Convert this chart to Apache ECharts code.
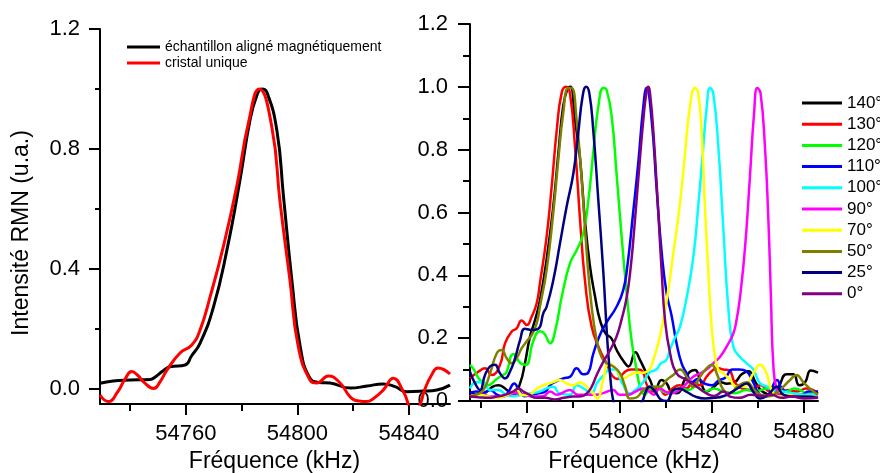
<!DOCTYPE html>
<html><head><meta charset="utf-8">
<script src="https://cdn.jsdelivr.net/npm/echarts@6/dist/echarts.min.js"></script>
<style>html,body{margin:0;padding:0;background:#fff}#c{width:880px;height:473px}</style>
</head><body><div id="c"></div>
<script>
const FONT = '"Liberation Sans", Arial, sans-serif';

// ---------- tick labels ----------
const leftXMajor = [54760, 54800, 54840];
const leftXMinor = [54740, 54780, 54820];
const leftYMajor = [0, 0.4, 0.8, 1.2];
const leftYMinor = [0.2, 0.6, 1.0];
const rightXMajor = [54760, 54800, 54840, 54880];
const rightXMinor = [54740, 54780, 54820, 54860];

// ---------- left panel series ----------
const leftNames = ['échantillon aligné magnétiquement', 'cristal unique'];
const alignedSample = [[54729.2,0.019],[54733.9,0.027],[54740,0.03],[54747.2,0.032],[54749,0.04],[54752,0.062],[54754.3,0.074],[54759.7,0.08],[54762,0.11],[54765.1,0.153],[54769.9,0.274],[54774.7,0.463],[54779.4,0.697],[54783,0.897],[54785.5,0.98],[54787.2,1.0],[54789,0.99],[54792.6,0.863],[54795,0.641],[54798,0.363],[54801,0.141],[54804.5,0.036],[54808,0.022],[54811.7,0.02],[54818.9,0.003],[54825,0.01],[54830.7,0.017],[54835,0.008],[54839.2,-0.009],[54845,-0.007],[54850,-0.003],[54854.7,0.013]];
const singleCrystal = [[54729.2,-0.02],[54732.2,-0.042],[54735.5,-0.01],[54738,0.03],[54740.6,0.058],[54742.8,0.045],[54744.8,0.024],[54748.4,0.002],[54750.8,0.025],[54753.2,0.063],[54757.9,0.12],[54762.1,0.147],[54765.1,0.197],[54768.7,0.308],[54773.4,0.474],[54778.2,0.674],[54782.4,0.886],[54786.3,1.0],[54790.8,0.874],[54793.8,0.62],[54797.3,0.363],[54800.3,0.141],[54804.5,0.03],[54806.9,0.02],[54811.1,0.043],[54815.3,0.02],[54818.9,-0.026],[54822,-0.04],[54824.8,-0.042],[54827.5,-0.03],[54830.8,-0.003],[54834.4,0.036],[54838,-0.009],[54841.5,-0.07],[54843.5,-0.06],[54845.6,-0.003],[54848,0.045],[54850.4,0.07],[54854.7,0.05]];

// ---------- right panel series ----------
const angleNames = ['140°','130°','120°','110°','100°','90°','70°','50°','25°','0°'];
const angleColors = ['#000000','#ff0000','#00ff00','#0000ff','#00ffff','#ff00ff','#ffff00','#808000','#000080','#800080'];
const a140 = [[54735.3,0.03],[54738.5,0.02],[54742.5,0.03],[54745,0.045],[54747.6,0.05],[54750.5,0.04],[54754.1,0.019],[54757,0.056],[54759.1,0.12],[54761.3,0.205],[54763.5,0.258],[54765.6,0.32],[54768.5,0.45],[54771.4,0.62],[54773.6,0.79],[54775.7,0.94],[54777.6,0.995],[54778.8,1.0],[54780.8,0.895],[54783,0.77],[54785.1,0.576],[54787.3,0.428],[54789.5,0.332],[54791.6,0.258],[54794,0.215],[54796.5,0.2],[54799,0.16],[54802,0.125],[54804,0.11],[54807,0.155],[54809,0.13],[54811,0.1],[54813.3,0.067],[54815.5,0.035],[54818.3,0.067],[54820.5,0.056],[54822.5,0.03],[54825,0.025],[54828.5,0.07],[54830.6,0.093],[54832.8,0.099],[54835,0.067],[54837.8,0.03],[54841,0.045],[54844,0.06],[54846.5,0.055],[54850,0.06],[54853,0.085],[54856,0.095],[54859,0.06],[54862,0.03],[54866,0.02],[54869,0.045],[54872.5,0.085],[54875.4,0.085],[54878,0.05],[54880.5,0.06],[54883,0.097],[54886.1,0.09]];
const a130 = [[54735.3,0.072],[54738.9,0.093],[54741.8,0.104],[54744.7,0.083],[54748.3,0.115],[54750.5,0.184],[54753.4,0.221],[54755.5,0.231],[54757.7,0.256],[54759.9,0.242],[54762,0.268],[54764.2,0.311],[54765.6,0.375],[54768.5,0.523],[54770.7,0.683],[54772.9,0.863],[54775,0.98],[54776.9,1.0],[54778.6,0.98],[54780.8,0.81],[54783,0.576],[54785.1,0.385],[54788,0.237],[54791.6,0.162],[54794.5,0.12],[54797,0.08],[54799.5,0.07],[54802,0.09],[54805,0.1],[54808,0.1],[54810,0.095],[54812,0.05],[54814.5,0.03],[54817,0.04],[54820,0.02],[54823,0.04],[54826,0.05],[54829,0.04],[54832,0.06],[54835,0.05],[54837.8,0.077],[54840,0.095],[54842.5,0.105],[54845,0.1],[54847.5,0.098],[54850,0.06],[54853,0.04],[54857,0.035],[54861,0.05],[54865,0.03],[54869,0.02],[54873,0.035],[54877,0.03],[54881,0.04],[54886.1,0.025]];
const a120 = [[54735.3,0.115],[54737,0.1],[54739.6,0.067],[54743,0.05],[54746.9,0.07],[54749.5,0.083],[54751,0.09],[54754.1,0.15],[54757.2,0.12],[54759.5,0.115],[54762.7,0.19],[54765.6,0.222],[54767.5,0.215],[54770,0.184],[54772.4,0.23],[54775,0.33],[54778.6,0.438],[54781.5,0.48],[54784.4,0.534],[54786.6,0.64],[54788.7,0.79],[54790.9,0.937],[54793.1,0.996],[54794.5,0.99],[54796.7,0.905],[54798.8,0.725],[54801,0.523],[54803.2,0.343],[54805.3,0.194],[54807.5,0.1],[54809,0.045],[54811,0.02],[54813,0.035],[54816,0.045],[54819,0.03],[54822,0.025],[54826,0.04],[54830,0.035],[54833,0.045],[54837,0.03],[54841,0.04],[54845,0.03],[54850,0.025],[54855,0.035],[54859,0.03],[54864,0.04],[54868,0.035],[54872,0.03],[54876,0.04],[54881,0.025],[54886.1,0.02]];
const a110 = [[54735.3,0.025],[54738,0.03],[54741,0.025],[54744,0.035],[54747,0.02],[54749.8,0.014],[54752,0.03],[54754.5,0.056],[54756.5,0.035],[54759,0.015],[54762,0.02],[54765.5,0.025],[54768,0.03],[54770,0.05],[54772,0.06],[54775.7,0.072],[54778.6,0.077],[54781.5,0.104],[54784.4,0.085],[54786.5,0.09],[54788.7,0.15],[54791.6,0.21],[54794.5,0.25],[54798.8,0.3],[54801.7,0.353],[54803.5,0.43],[54806,0.6],[54808.2,0.757],[54810.4,0.937],[54811.8,0.996],[54814,0.895],[54816.2,0.672],[54818.4,0.47],[54820.5,0.343],[54822.7,0.27],[54824.8,0.184],[54827,0.12],[54829.2,0.088],[54831.5,0.06],[54834,0.07],[54837,0.055],[54840,0.05],[54843,0.065],[54846,0.075],[54849,0.1],[54852,0.1],[54855,0.095],[54858,0.06],[54861,0.02],[54864,0.015],[54866,0.04],[54868.3,0.067],[54870.5,0.04],[54874,0.025],[54879,0.02],[54882,0.03],[54886.1,0.03]];
const a100 = [[54735.3,0.04],[54738,0.06],[54741,0.06],[54744,0.035],[54747.5,0.035],[54751,0.02],[54754,0.015],[54758,0.02],[54762,0.025],[54765.5,0.03],[54768.5,0.04],[54771.4,0.045],[54774,0.025],[54778.6,0.02],[54781.5,0.05],[54784.4,0.04],[54788,0.025],[54790.3,0.057],[54793,0.08],[54796,0.1],[54798,0.1],[54801,0.06],[54804.6,0.024],[54807,0.035],[54810.4,0.06],[54813,0.09],[54816,0.1],[54818,0.12],[54820.3,0.13],[54822,0.165],[54824,0.2],[54826.3,0.237],[54829.2,0.33],[54832.1,0.46],[54834.2,0.62],[54836.4,0.81],[54837.9,0.937],[54839.3,0.996],[54840.7,0.98],[54842.9,0.81],[54845.1,0.545],[54847.2,0.3],[54849.4,0.173],[54852.3,0.14],[54855.2,0.12],[54858.1,0.1],[54861,0.056],[54864,0.046],[54867,0.035],[54871,0.03],[54875,0.025],[54880,0.02],[54886.1,0.02]];
const a90 = [[54735.3,0.015],[54738,0.02],[54741,0.02],[54744,0.014],[54748,0.014],[54752,0.02],[54755,0.025],[54759,0.02],[54763,0.014],[54767,0.015],[54770,0.03],[54773,0.02],[54778.6,0.035],[54782,0.02],[54786,0.02],[54790,0.02],[54793,0.025],[54797.4,0.035],[54800,0.02],[54804,0.02],[54807,0.03],[54810.4,0.04],[54813,0.03],[54815,0.02],[54817.6,0.04],[54820,0.03],[54823,0.025],[54826,0.035],[54829,0.055],[54832,0.077],[54835,0.088],[54837.8,0.1],[54840.7,0.12],[54843.6,0.14],[54846.5,0.173],[54849.4,0.215],[54850.8,0.258],[54852.3,0.33],[54854.5,0.49],[54856.6,0.714],[54858.4,0.916],[54859.8,0.996],[54861.2,0.98],[54863.1,0.81],[54864.6,0.576],[54865.7,0.332],[54866.7,0.12],[54868.2,0.035],[54870.3,0.014],[54874,0.015],[54878,0.012],[54882,0.015],[54886.1,0.01]];
const a70 = [[54735.3,0.014],[54739,0.02],[54743,0.015],[54747,0.01],[54750,0.015],[54753,0.025],[54755.5,0.035],[54758,0.018],[54761,0.02],[54764.2,0.04],[54767,0.05],[54771.4,0.06],[54774.3,0.067],[54777,0.056],[54780,0.05],[54783,0.06],[54785.9,0.045],[54788.7,0.024],[54790.5,0.008],[54793,0.067],[54795.5,0.12],[54798.8,0.1],[54801.7,0.072],[54804.6,0.083],[54807.5,0.09],[54810.4,0.09],[54813,0.1],[54814.7,0.13],[54817.6,0.205],[54820.5,0.32],[54823.4,0.47],[54826.3,0.63],[54828.5,0.79],[54830.6,0.937],[54832.8,0.996],[54834.2,0.98],[54835.7,0.852],[54837.1,0.62],[54838.6,0.407],[54840,0.237],[54841.5,0.14],[54842.9,0.1],[54845.1,0.088],[54848,0.067],[54850.8,0.046],[54854,0.046],[54858.1,0.088],[54861,0.115],[54863.8,0.088],[54866,0.035],[54869.6,0.014],[54873,0.02],[54877,0.015],[54881,0.015],[54886.1,0.01]];
const a50 = [[54735.3,0.014],[54738,0.02],[54741.1,0.035],[54744,0.088],[54746.9,0.152],[54749,0.162],[54751.2,0.136],[54753.4,0.12],[54755.5,0.136],[54757.7,0.168],[54759.9,0.19],[54762,0.21],[54764.2,0.247],[54765.6,0.3],[54768.5,0.417],[54771.4,0.6],[54773.6,0.77],[54775.7,0.916],[54777.9,0.996],[54779.3,0.996],[54781.5,0.895],[54783.7,0.704],[54785.9,0.47],[54788,0.3],[54790.2,0.194],[54792.3,0.14],[54794.5,0.12],[54797.4,0.11],[54800.3,0.088],[54802.5,0.046],[54804.6,0.008],[54807,0.01],[54810,0.03],[54813,0.045],[54817.6,0.045],[54820.5,0.067],[54823.4,0.083],[54826.3,0.1],[54829.2,0.077],[54832,0.045],[54835,0.077],[54837.8,0.104],[54840,0.115],[54842.2,0.088],[54845.1,0.035],[54848,0.025],[54851,0.045],[54855.2,0.06],[54858,0.04],[54861,0.02],[54865,0.015],[54868,0.025],[54871,0.045],[54874,0.067],[54876.8,0.083],[54879.7,0.06],[54882.5,0.04],[54886.1,0.02]];
const a25 = [[54735.3,0.093],[54737.5,0.056],[54739.6,0.035],[54741.8,0.083],[54744,0.11],[54746.1,0.115],[54748.3,0.088],[54750.5,0.072],[54752.6,0.093],[54754.8,0.136],[54757,0.194],[54759.1,0.23],[54762,0.226],[54764.9,0.23],[54767.1,0.28],[54768.5,0.3],[54771.4,0.385],[54774.3,0.502],[54777.2,0.62],[54780.1,0.725],[54782.2,0.852],[54784.1,0.97],[54785.6,1.0],[54787,0.98],[54788.7,0.863],[54790.9,0.64],[54793.1,0.407],[54794.8,0.194],[54796.2,0.067],[54797.4,0.0],[54799,-0.03],[54803,-0.05],[54807,-0.03],[54810,0.0],[54811.5,0.03],[54813,0.045],[54815.5,0.03],[54818,0.005],[54820.5,0.0],[54823.4,0.035],[54826,0.04],[54829,0.03],[54833,0.014],[54837,0.008],[54841,0.01],[54845,0.015],[54849,0.03],[54852.3,0.045],[54855.2,0.056],[54858,0.03],[54861,0.008],[54864.5,0.02],[54868.2,0.045],[54871,0.02],[54875,0.014],[54880,0.014],[54886.1,0.01]];
const a0 = [[54735.3,0.014],[54739,0.012],[54743,0.01],[54747,0.014],[54750.5,0.02],[54754,0.03],[54756.2,0.04],[54758.5,0.03],[54761,0.02],[54764,0.01],[54768,0.01],[54772,0.005],[54776,0.01],[54780,0.014],[54783.5,0.015],[54785.9,0.024],[54788,0.045],[54790.2,0.083],[54793.1,0.125],[54796,0.162],[54798.8,0.205],[54801,0.26],[54803.2,0.33],[54805,0.43],[54806.5,0.55],[54808.2,0.704],[54810.4,0.895],[54811.9,0.99],[54812.6,1.0],[54813.3,0.98],[54814.7,0.863],[54816.9,0.6],[54818.4,0.407],[54819.8,0.258],[54822,0.152],[54824.8,0.088],[54829.2,0.067],[54833.5,0.046],[54837.8,0.024],[54841,0.016],[54845.1,0.03],[54848,0.014],[54852,0.01],[54857,0.02],[54862,0.016],[54866,0.02],[54870,0.01],[54875,0.014],[54880,0.008],[54886.1,0.01]];
const angleData = [a140, a130, a120, a110, a100, a90, a70, a50, a25, a0];

// ---------- chart ----------
const chart = echarts.init(document.getElementById('c'), null, {renderer: 'canvas'});
const black = '#000';
const lineStyle = {color: black, width: 2};
function axisX(grid, min, max, values, len, showLine, labelMargin) {
  return {
    type: 'value', gridIndex: grid, min: min, max: max, position: 'bottom', offset: 0,
    axisLine: {show: showLine, onZero: false, lineStyle: lineStyle},
    axisTick: {show: true, customValues: values, length: len, lineStyle: lineStyle},
    axisLabel: showLine ? {show: true, customValues: values, fontSize: 22, color: black, fontFamily: FONT, margin: labelMargin,
      formatter: v => String(Math.round(v))} : {show: false},
    splitLine: {show: false}
  };
}
function axisY(grid, min, max, values, len, showLine, labelMargin) {
  return {
    type: 'value', gridIndex: grid, min: min, max: max, position: 'left', offset: 0,
    axisLine: {show: showLine, onZero: false, lineStyle: lineStyle},
    axisTick: {show: true, customValues: values, length: len, lineStyle: lineStyle},
    axisLabel: showLine ? {show: true, customValues: values, fontSize: 22, color: black, fontFamily: FONT, margin: labelMargin,
      formatter: v => v.toFixed(1)} : {show: false},
    splitLine: {show: false}
  };
}

const series = [
  {name: leftNames[0], type: 'line', xAxisIndex: 0, yAxisIndex: 0, data: alignedSample, color: '#000000'},
  {name: leftNames[1], type: 'line', xAxisIndex: 0, yAxisIndex: 0, data: singleCrystal, color: '#ff0000'}
].map(s => Object.assign(s, {showSymbol: false, symbol: 'none', smooth: 0.5, lineStyle: {width: 3}, clip: true}));

angleNames.forEach((n, i) => {
  series.push({name: n, type: 'line', xAxisIndex: 2, yAxisIndex: 2, data: angleData[i], color: angleColors[i],
    showSymbol: false, symbol: 'none', smooth: 0.5, lineStyle: {width: 2.5}, clip: true});
});

chart.setOption({
  animation: false,
  backgroundColor: '#fff',
  grid: [
    {left: 100, top: 29, width: 350, height: 375},
    {left: 470, top: 24, width: 348, height: 377}
  ],
  xAxis: [
    axisX(0, 54729.2, 54854.7, leftXMajor, 11, true, 19),
    axisX(0, 54729.2, 54854.7, leftXMinor, 7, false, 0),
    axisX(1, 54735.3, 54886.1, rightXMajor, 12, true, 20),
    axisX(1, 54735.3, 54886.1, rightXMinor, 7, false, 0)
  ],
  yAxis: [
    axisY(0, -0.05, 1.2, leftYMajor, 11, true, 20),
    axisY(0, -0.05, 1.2, leftYMinor, 5, false, 0),
    {
      type: 'value', gridIndex: 1, min: 0, max: 1.2, interval: 0.2, position: 'left',
      axisLine: {show: true, onZero: false, lineStyle: lineStyle},
      axisTick: {show: true, length: 12, lineStyle: lineStyle},
      minorTick: {show: true, splitNumber: 2, length: 7, lineStyle: lineStyle},
      axisLabel: {fontSize: 22, color: black, fontFamily: FONT, margin: 22, formatter: v => v.toFixed(1)},
      splitLine: {show: false}, minorSplitLine: {show: false}
    }
  ],
  legend: [
    {data: leftNames, orient: 'vertical', left: 127, top: 39, padding: 0, itemGap: 0,
      itemWidth: 33, itemHeight: 3, icon: 'rect', selectedMode: false,
      textStyle: {fontSize: 14, lineHeight: 16, color: black, fontFamily: FONT}},
    {data: angleNames, orient: 'vertical', left: 802, top: 92.4, padding: 0, itemGap: 0,
      itemWidth: 40, itemHeight: 3, icon: 'rect', selectedMode: false,
      textStyle: {fontSize: 17, lineHeight: 21.2, color: black, fontFamily: FONT}}
  ],
  graphic: [
    {type: 'text', x: 274.5, y: 462, style: {text: 'Fréquence (kHz)', font: '23px ' + FONT, fill: black, textAlign: 'center', textVerticalAlign: 'middle'}},
    {type: 'text', x: 634, y: 462, style: {text: 'Fréquence (kHz)', font: '23px ' + FONT, fill: black, textAlign: 'center', textVerticalAlign: 'middle'}},
    {type: 'text', x: 22, y: 233, rotation: Math.PI / 2, style: {text: 'Intensité RMN (u.a.)', font: '23px ' + FONT, fill: black, textAlign: 'center', textVerticalAlign: 'middle'}}
  ],
  series: series
});
</script></body></html>
